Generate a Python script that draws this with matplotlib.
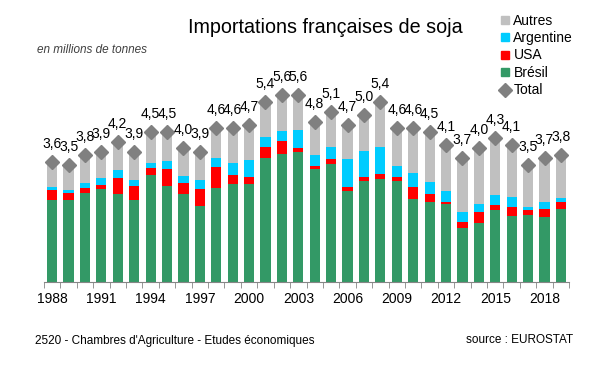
import numpy as np
import matplotlib.pyplot as plt
from matplotlib.lines import Line2D

plt.rcParams['font.family'] = ['Liberation Sans', 'DejaVu Sans']

years = list(range(1988, 2020))
total = [3.6, 3.5, 3.8, 3.9, 4.2, 3.9, 4.5, 4.5, 4.0, 3.9, 4.6, 4.6, 4.7, 5.4, 5.6, 5.6,
         4.8, 5.1, 4.7, 5.0, 5.4, 4.6, 4.6, 4.5, 4.1, 3.7, 4.0, 4.3, 4.1, 3.5, 3.7, 3.8]
bresil = [2.45, 2.45, 2.66, 2.78, 2.63, 2.45, 3.20, 2.87, 2.63, 2.27, 2.82, 2.93, 2.93, 3.72, 3.84, 3.89,
          3.38, 3.53, 2.72, 3.02, 3.08, 3.02, 2.48, 2.39, 2.33, 1.61, 1.76, 2.15, 1.97, 2.00, 1.94, 2.18]
usa = [0.30, 0.21, 0.16, 0.12, 0.49, 0.43, 0.22, 0.52, 0.34, 0.52, 0.63, 0.27, 0.22, 0.33, 0.39, 0.13,
       0.10, 0.15, 0.12, 0.12, 0.15, 0.12, 0.36, 0.24, 0.06, 0.18, 0.33, 0.15, 0.27, 0.15, 0.24, 0.21]
argentine = [0.09, 0.09, 0.14, 0.22, 0.24, 0.18, 0.14, 0.24, 0.21, 0.27, 0.27, 0.37, 0.51, 0.30, 0.30, 0.54,
             0.32, 0.36, 0.84, 0.79, 0.81, 0.33, 0.42, 0.36, 0.33, 0.30, 0.24, 0.30, 0.30, 0.09, 0.21, 0.12]

c_bresil = '#339966'
c_usa = '#FF0000'
c_arg = '#00CCFF'
c_autres = '#C0C0C0'
c_total = '#808080'

x = np.arange(len(years))
bresil = np.array(bresil)
usa = np.array(usa)
argentine = np.array(argentine)
total = np.array(total)
autres = total - bresil - usa - argentine

fig = plt.figure(figsize=(6.1, 3.8), dpi=100)
ax = fig.add_axes([0.072, 0.258, 0.861, 0.527])

w = 0.62
ax.bar(x, bresil, w, color=c_bresil)
ax.bar(x, usa, w, bottom=bresil, color=c_usa)
ax.bar(x, argentine, w, bottom=bresil + usa, color=c_arg)
ax.bar(x, autres, w, bottom=bresil + usa + argentine, color=c_autres)
ax.plot(x, total, 'D', color=c_total, markersize=7, linestyle='none', zorder=3)

for xi, t in zip(x, total):
    ax.annotate(f'{t:.1f}'.replace('.', ','), (xi, t), xytext=(0, 8),
                textcoords='offset points', ha='center', va='bottom', fontsize=10)

ax.set_xlim(-0.5, len(years) - 0.5)
ax.set_ylim(0, 6)
ax.set_yticks([])
for s in ['top', 'right', 'left']:
    ax.spines[s].set_visible(False)
ax.spines['bottom'].set_color('#868686')

ax.set_xticks(x[::3])
ax.set_xticklabels([str(y) for y in years[::3]], fontsize=10)
ax.set_xticks(np.arange(-0.5, len(years)), minor=True)
ax.tick_params(axis='x', which='major', length=0, pad=7)
ax.tick_params(axis='x', which='minor', length=4, color='#868686')

fig.text(0.533, 0.913, 'Importations françaises de soja', fontsize=14.2, ha='center', va='baseline')
fig.text(0.06, 0.868, 'en millions de tonnes', fontsize=8.5, style='italic', color='#404040',
         ha='left', va='center')
fig.text(0.057, 0.102, "2520 - Chambres d'Agriculture - Etudes économiques", fontsize=8.5,
         ha='left', va='center')
fig.text(0.94, 0.105, 'source : EUROSTAT', fontsize=8.5, ha='right', va='center')

handles = [
    Line2D([], [], marker='s', color=c_autres, linestyle='none', markersize=6),
    Line2D([], [], marker='s', color=c_arg, linestyle='none', markersize=6),
    Line2D([], [], marker='s', color=c_usa, linestyle='none', markersize=6),
    Line2D([], [], marker='s', color=c_bresil, linestyle='none', markersize=6),
    Line2D([], [], marker='D', color=c_total, linestyle='none', markersize=7),
]
fig.legend(handles, ['Autres', 'Argentine', 'USA', 'Brésil', 'Total'],
           loc='upper left', bbox_to_anchor=(0.803, 0.99), frameon=False,
           fontsize=10, handlelength=0.8, handletextpad=0.2, labelspacing=0.25,
           borderpad=0.2)

fig.savefig('out.png', dpi=100)
